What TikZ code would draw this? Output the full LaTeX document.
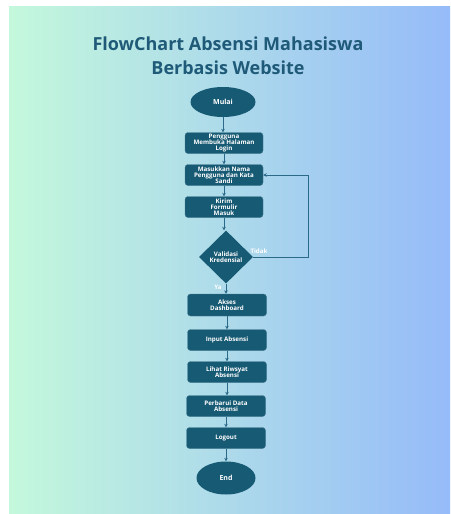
\documentclass[tikz,border=0pt]{standalone}
\usepackage{fontspec}
\setmainfont{Open Sans}
\usetikzlibrary{shapes.geometric,arrows.meta}
\definecolor{bgL}{HTML}{C4F8DC}
\definecolor{bgM}{HTML}{B4E1E6}
\definecolor{bgR}{HTML}{96BBF9}
\definecolor{nodefill}{HTML}{175A74}
\definecolor{titlec}{HTML}{1F5A78}
\definecolor{linec}{HTML}{2A6A88}
\tikzset{
  x=1pt,y=-1pt,
  procbox/.style={draw=nodefill!80!white, line width=0.4pt, fill=nodefill, rounded corners=3pt, minimum width=78pt, minimum height=21pt, inner sep=1pt, align=center, text=white, font=\fontsize{6.2}{6.2}\selectfont\bfseries},
  term/.style={ellipse, fill=nodefill, align=center, text=white, inner sep=0pt, font=\fontsize{7}{7}\selectfont\bfseries},
  decide/.style={diamond, fill=nodefill, minimum width=54pt, minimum height=53pt, inner sep=0pt, align=center, text=white, font=\fontsize{6.2}{6.2}\selectfont\bfseries},
  conn/.style={draw=linec, line width=0.9pt, -{Stealth[length=3.5pt,width=3.5pt]}},
  lbl/.style={text=white, font=\fontsize{6.2}{6.2}\selectfont\bfseries, inner sep=0pt}
}
\begin{document}
\begin{tikzpicture}
\useasboundingbox (0,0) rectangle (450,514);
\fill[white] (0,0) rectangle (450,514);
\shade[left color=bgL, middle color=bgM, right color=bgR] (9,6) rectangle (450,513);
\node[text=titlec, font=\fontsize{18}{24}\selectfont\bfseries, align=center] (title) at (228,56) {FlowChart Absensi Mahasiswa\\Berbasis Website};
\node[term, minimum width=65pt, minimum height=30pt] (start) at (223,102) {Mulai};
\node[procbox] (b1) at (224,143) {Pengguna\\Membuka Halaman\\Login};
\node[procbox] (b2) at (224,175) {Masukkan Nama\\Pengguna dan Kata\\Sandi};
\node[procbox] (b3) at (224,207) {Kirim\\Formulir\\Masuk};
\node[decide] (dec) at (226,257) {Validasi\\Kredensial};
\node[procbox, minimum width=79pt, minimum height=22pt] (b4) at (227,305) {Akses\\Dashboard};
\node[procbox, minimum width=79pt] (b5) at (227,340) {Input Absensi};
\node[procbox, minimum width=79pt] (b6) at (227,372) {Lihat Riwsyat\\Absensi};
\node[procbox, minimum width=79pt] (b7) at (226,406) {Perbarui Data\\Absensi};
\node[procbox, minimum width=79pt] (b8) at (226,438) {Logout};
\node[term, minimum width=59pt, minimum height=33pt] (end) at (226,478) {End};
\node[lbl] (tidak) at (259,251) {Tidak};
\node[lbl] (ya) at (218,287) {Ya};
\coordinate (loopR) at (308,257);
\draw[conn] (start.south) -- (start.south |- b1.north);
\draw[conn] (b1.south) -- (b1.south |- b2.north);
\draw[conn] (b2.south) -- (b2.south |- b3.north);
\draw[conn] (b3.south) -- (b3.south |- dec.north);
\draw[conn] (dec.south) -- (dec.south |- b4.north);
\draw[conn] (b4.south) -- (b4.south |- b5.north);
\draw[conn] (b5.south) -- (b5.south |- b6.north);
\draw[conn] (b6.south) -- (b6.south |- b7.north);
\draw[conn] (b7.south) -- (b7.south |- b8.north);
\draw[conn] (b8.south) -- (b8.south |- end.north);
\draw[conn] (dec.east) -- (loopR) |- (b2.east);
\end{tikzpicture}
\end{document}
